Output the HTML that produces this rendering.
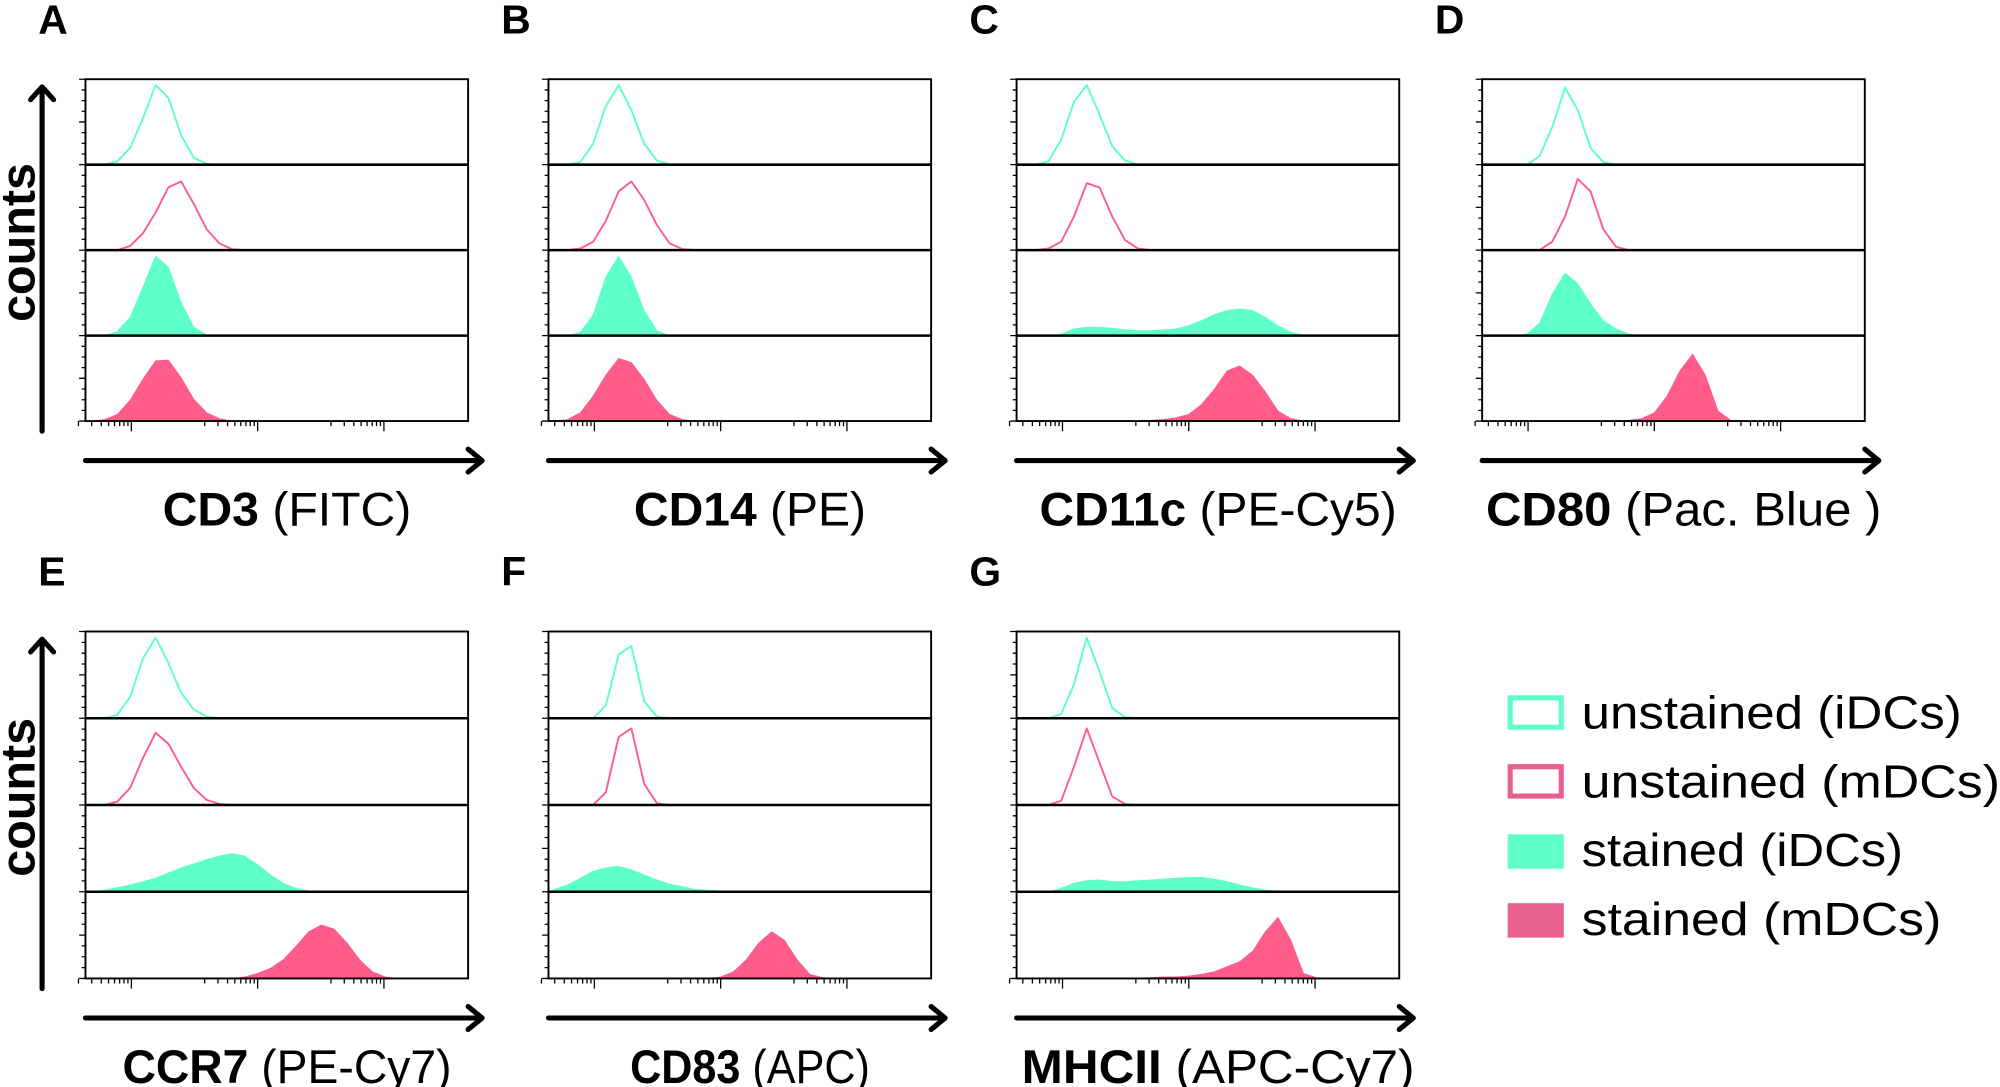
<!DOCTYPE html>
<html><head><meta charset="utf-8"><style>
html,body{margin:0;padding:0;background:#fff;}
svg{display:block;}
text{font-family:"Liberation Sans",sans-serif;}
</style></head><body>
<svg id="fig" width="2000" height="1087" viewBox="0 0 1568 852" xmlns="http://www.w3.org/2000/svg">
<g id="panels"></g>
<g id="legend">
 <g><rect x="1184" y="547" width="40" height="23" fill="none" stroke="#5effc8" stroke-width="4"/><text x="1240" y="571" font-size="36" textLength="298" lengthAdjust="spacingAndGlyphs">unstained (iDCs)</text></g>
 <g><rect x="1184" y="601" width="40" height="23" fill="none" stroke="#e8608f" stroke-width="4"/><text x="1240" y="625" font-size="36" textLength="328" lengthAdjust="spacingAndGlyphs">unstained (mDCs)</text></g>
 <g><rect x="1182" y="654" width="44" height="27" fill="#5effc8"/><text x="1240" y="679" font-size="36" textLength="252" lengthAdjust="spacingAndGlyphs">stained (iDCs)</text></g>
 <g><rect x="1182" y="708" width="44" height="27" fill="#e8608f"/><text x="1240" y="733" font-size="36" textLength="282" lengthAdjust="spacingAndGlyphs">stained (mDCs)</text></g>
</g>
</svg>
<script>
// Panel definitions (categories)
const panelLetters = ['A','B','C','D','E','F','G'];
const markerNames = ['CD3','CD14','CD11c','CD80','CCR7','CD83','MHCII'];
const fluorNames = ['(FITC)','(PE)','(PE-Cy5)','(Pac. Blue )','(PE-Cy7)','(APC)','(APC-Cy7)'];
// Histogram bin values (30 bins across the log axis, fraction of row height)
// order per panel: unstained iDCs, unstained mDCs, stained iDCs, stained mDCs
const histA = [
 [0,0,0.04,0.2,0.55,0.95,0.8,0.35,0.08,0.01],
 [0,0,0,0.05,0.2,0.45,0.75,0.82,0.55,0.25,0.08,0.01],
 [0,0,0.05,0.22,0.58,0.95,0.82,0.4,0.1,0.01],
 [0,0.02,0.08,0.25,0.5,0.72,0.73,0.52,0.26,0.1,0.03]];
const histB = [
 [0,0,0.03,0.25,0.7,0.95,0.65,0.25,0.05],
 [0,0,0.02,0.1,0.35,0.7,0.82,0.6,0.3,0.08,0.01],
 [0,0,0.04,0.25,0.7,0.95,0.7,0.3,0.06],
 [0,0.02,0.1,0.3,0.55,0.75,0.7,0.5,0.25,0.08,0.02]];
const histC = [
 [0,0,0.04,0.3,0.75,0.95,0.6,0.22,0.05],
 [0,0,0.02,0.1,0.4,0.8,0.75,0.4,0.12,0.02],
 [0,0,0,0.02,0.08,0.1,0.1,0.09,0.07,0.06,0.06,0.07,0.08,0.12,0.18,0.25,0.3,0.32,0.3,0.22,0.12,0.04,0.01],
 [0,0,0,0,0,0,0,0,0,0,0.01,0.02,0.04,0.08,0.2,0.38,0.6,0.66,0.55,0.35,0.12,0.03]];
const histD = [
 [0,0,0,0,0.1,0.45,0.92,0.65,0.2,0.03],
 [0,0,0,0,0,0.1,0.4,0.85,0.7,0.25,0.04],
 [0,0,0,0.02,0.15,0.5,0.75,0.62,0.38,0.18,0.08,0.02],
 [0,0,0,0,0,0,0,0,0,0,0,0.01,0.03,0.1,0.3,0.6,0.8,0.55,0.12,0.01]];
const histE = [
 [0,0,0.04,0.25,0.7,0.95,0.65,0.3,0.1,0.02],
 [0,0,0.04,0.2,0.55,0.85,0.72,0.45,0.2,0.06,0.01],
 [0,0.02,0.05,0.08,0.12,0.16,0.22,0.28,0.33,0.38,0.42,0.45,0.42,0.32,0.2,0.1,0.04,0.01],
 [0,0,0,0,0,0,0,0,0,0,0,0,0.02,0.06,0.12,0.22,0.38,0.55,0.63,0.58,0.42,0.22,0.08,0.02]];
const histF = [
 [0,0,0,0,0.15,0.75,0.85,0.2,0.02],
 [0,0,0,0,0.15,0.8,0.9,0.25,0.02],
 [0.03,0.08,0.16,0.24,0.28,0.3,0.26,0.2,0.14,0.09,0.06,0.03,0.02,0.01],
 [0,0,0,0,0,0,0,0,0,0,0,0,0,0.02,0.08,0.22,0.42,0.55,0.45,0.22,0.05,0.01]];
const histG = [
 [0,0,0,0.05,0.4,0.95,0.55,0.12,0.01],
 [0,0,0,0.05,0.45,0.9,0.5,0.1,0.01],
 [0,0,0,0.04,0.1,0.13,0.14,0.12,0.12,0.13,0.14,0.15,0.16,0.17,0.17,0.15,0.12,0.08,0.05,0.02,0.01],
 [0,0,0,0,0,0,0,0,0,0,0.01,0.02,0.02,0.03,0.05,0.08,0.14,0.2,0.32,0.55,0.72,0.45,0.06,0.01]];
const histograms = [histA,histB,histC,histD,histE,histF,histG];

const NB = 30;
const BOX_W = 300;
const panelX = [67,430,797,1162,67,430,797];
const panelRowTop = [62,62,62,62,495,495,495];
const BOX_H = [268,268,268,268,272,272,272];
const labelLen = [195,182,280,310,258,188,308];
const lineColors = ['#5effc8','#ff5c8c','#5effc8','#ff5c8c'];
const isFilled = [false,false,true,true];
const NS = 'http://www.w3.org/2000/svg';
const root = document.getElementById('panels');
function mk(tag, attrs, parent){const e=document.createElementNS(NS,tag);for(const k in attrs)e.setAttribute(k,attrs[k]);parent.appendChild(e);return e;}

histograms.forEach((hist, p) => {
  const x0 = panelX[p], y0 = panelRowTop[p], H = BOX_H[p], rowH = H/4;
  const xScale = i => x0 + (i+0.5)*BOX_W/NB;
  const g = mk('g', {}, root);
  
  
  const lt = mk('text', {x:x0-37, y:y0-36, 'font-size':32, 'font-weight':'bold'}, g);
  lt.textContent = panelLetters[p];
  
  
  hist.forEach((vals, r) => {
    const base = y0 + rowH*(r+1);
    const yScale = v => base - v*rowH*0.98;
    let pts = [[x0, base]];
    for (let i=0;i<NB;i++){ const v = i<vals.length?vals[i]:0; pts.push([xScale(i), yScale(v)]); }
    pts.push([x0+BOX_W, base]);
    const d = 'M'+pts.map(q=>q[0].toFixed(1)+','+q[1].toFixed(1)).join('L');
    const path = mk('path', {d: isFilled[r]? d+'Z' : d, fill: isFilled[r]?lineColors[r]:'none', stroke: lineColors[r], 'stroke-width': isFilled[r]?0.5:1.5, 'stroke-linejoin':'round'}, g);
    
    
  });
  const box = mk('rect', {x:x0, y:y0, width:BOX_W, height:H, fill:'none', stroke:'#000', 'stroke-width':1.5}, g);
  
  
  for (let r=1;r<4;r++){
    const ln = mk('line', {x1:x0, x2:x0+BOX_W, y1:y0+rowH*r, y2:y0+rowH*r, stroke:'#000', 'stroke-width':2}, g);
    
    
  }
  let tk = '';
  for (let r=0;r<4;r++) for (let k=0;k<=8;k++){ const y=y0+rowH*r+k*rowH/8; tk += 'M'+(x0-(k%4==0?5:3))+','+y.toFixed(1)+'H'+x0; }
  const decs = [0.12,0.45,0.78];
  decs.forEach(dx=>{ const X=x0+dx*BOX_W; tk+='M'+X+','+(y0+H)+'v8'; for(let m=2;m<10;m++){const xx=X-(1-Math.log10(m))*0.33*BOX_W*0.6; tk+='M'+xx.toFixed(1)+','+(y0+H)+'v4';} });
  const ticks = mk('path', {d:tk, stroke:'#000', 'stroke-width':1, fill:'none'}, g);
  
  
  const ay = y0 + H + 31;
  const xa = mk('path', {d:'M'+x0+','+ay+'H'+(x0+310)+'M'+(x0+300)+','+(ay-9)+'L'+(x0+311)+','+ay+'L'+(x0+300)+','+(ay+9), stroke:'#000','stroke-width':4,fill:'none','stroke-linecap':'round','stroke-linejoin':'round'}, g);
  
  
  const tx = mk('text', {x:x0+158, y:ay+51, 'font-size':37, 'text-anchor':'middle', textLength:labelLen[p], lengthAdjust:'spacingAndGlyphs'}, g);
  
  
  const b = mk('tspan', {'font-weight':'bold'}, tx); b.textContent = markerNames[p];
  const n = mk('tspan', {}, tx); n.textContent = ' ' + fluorNames[p];
  if (p===0 || p===4){
    const top = y0+6, bot = y0+H+8;
    const ya = mk('path', {d:'M33,'+bot+'V'+top+'M24,'+(top+10)+'L33,'+top+'L42,'+(top+10), stroke:'#000','stroke-width':4,fill:'none','stroke-linecap':'round','stroke-linejoin':'round'}, g);
    
    
    const yt = mk('text', {x:0, y:0, 'font-size':38, 'font-weight':'bold', 'text-anchor':'middle', transform:'translate(27,'+(y0+H*0.5-6)+') rotate(-90)'}, g);
    yt.textContent = 'counts';
    
    
  }
});
</script>
</body></html>
